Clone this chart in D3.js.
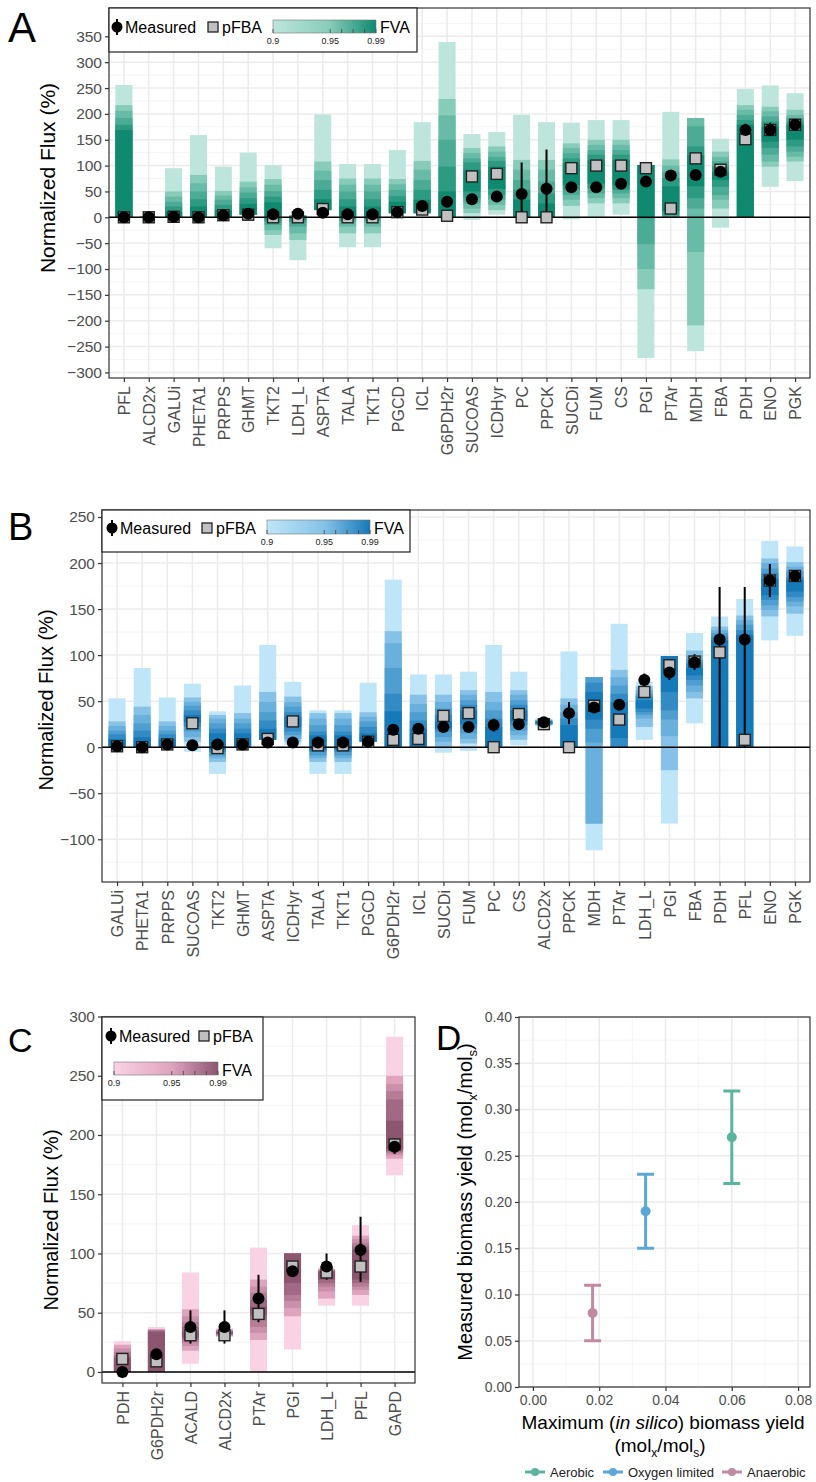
<!DOCTYPE html>
<html><head><meta charset="utf-8">
<script src="https://cdn.jsdelivr.net/npm/d3@7"></script>
<style>
body{margin:0;background:#fff}
svg{display:block}
text{font-family:"Liberation Sans",Arial,Helvetica,sans-serif}
</style>
</head><body>
<svg id="fig" width="816" height="1482"></svg>
<script>
// ---------------- DATA ----------------
const fvaFractions = [0.9, 0.95, 0.96, 0.97, 0.98, 0.99];
const legendTickLabels = ["0.9", "0.95", "0.99"];

// Panel A (aerobic)
const aReactions = ["PFL","ALCD2x","GALUi","PHETA1","PRPPS","GHMT","TKT2","LDH_L","ASPTA","TALA","TKT1","PGCD","ICL","G6PDH2r","SUCOAS","ICDHyr","PC","PPCK","SUCDi","FUM","CS","PGI","PTAr","MDH","FBA","PDH","ENO","PGK"];
const aMeasured   = [0,0,1,0,4,7,6,7,9,6,6,10,22,30,35,40,45,55,58,58,65,69,81,82,88,169,169,179];
const aMeasuredLo = [0,0,1,0,4,7,6,7,9,6,6,10,16,30,35,40,0,0,58,58,65,69,81,82,85,157,157,179];
const aMeasuredHi = [0,0,1,0,4,7,6,7,9,6,6,10,32,30,35,40,106,131,58,58,65,69,81,82,91,181,183,179];
const aPfba       = [0,0,1,0,4,5,0,0,16,0,0,10,15,3,79,84,0,0,95,100,100,95,17,114,92,151,169,179];
const aFvaHi = [
 [256,217,206,192,179,169],[1,1,1,1,1,1],[95,50,40,30,21,11],[159,82,66,50,35,21],
 [98,51,42,34,24,14],[125,69,58,48,37,26],[101,74,63,51,40,29],[3,3,3,3,3,3],
 [199,108,90,72,53,35],[103,75,63,50,35,21],[103,75,63,50,35,21],[130,74,64,53,41,30],
 [184,109,92,72,53,34],[339,229,197,150,98,50],[161,134,124,114,106,92],[165,137,127,117,109,98],
 [198,111,92,72,53,34],[184,111,92,69,46,27],[183,143,134,124,114,105],[188,150,140,130,121,111],
 [188,150,140,130,121,111],[101,101,101,101,101,101],[204,112,100,88,76,60],[192,192,192,176,137,120],
 [152,127,117,108,98,88],[248,217,208,198,188,179],[255,214,205,195,185,175],[240,208,198,192,185,179]
];
const aFvaLo = [
 [0,0,0,0,0,0],[-1,-1,-1,-1,-1,-1],[0,0,0,0,0,0],[0,0,0,0,0,0],
 [0,0,0,0,0,0],[5,5,5,5,5,5],[-60,-34,-25,-15,-8,-3],[-83,-44,-31,-18,-8,-3],
 [14,14,14,14,14,14],[-58,-31,-18,-8,-3,-2],[-58,-31,-18,-8,-3,-2],[8,8,8,8,8,8],
 [8,8,8,8,8,8],[0,0,0,0,0,0],[-5,8,17,27,37,50],[5,14,24,34,43,55],
 [0,0,0,0,0,0],[0,0,0,0,0,0],[-4,22,34,43,53,62],[0,27,37,46,56,65],
 [5,27,37,46,53,62],[-272,-139,-100,-52,-2,0],[0,0,0,0,5,12],[-259,-209,-67,17,37,60],
 [-20,17,34,43,59,72],[0,0,0,0,0,0],[59,98,108,121,134,146],[70,108,117,127,137,150]
];
const aYTicks = [-300,-250,-200,-150,-100,-50,0,50,100,150,200,250,300,350];

// Panel B (oxygen limited)
const bReactions = ["GALUi","PHETA1","PRPPS","SUCOAS","TKT2","GHMT","ASPTA","ICDHyr","TALA","TKT1","PGCD","G6PDH2r","ICL","SUCDi","FUM","PC","CS","ALCD2x","PPCK","MDH","PTAr","LDH_L","PGI","FBA","PDH","PFL","ENO","PGK"];
const bMeasured   = [1,0,3,2,3,3,5,5,5,5,6,19,20,22,22,24,25,27,37,43,46,73,81,92,117,117,181,186];
const bMeasuredLo = [1,0,3,2,3,3,5,5,5,5,6,19,20,22,22,17,25,27,25,43,46,65,73,84,0,0,163,186];
const bMeasuredHi = [1,0,3,2,3,3,5,5,5,5,6,19,20,22,22,31,25,27,49,43,46,80,90,101,174,174,199,186];
const bPfba       = [1,0,3,26,-1,3,9,28,2,2,6,8,9,34,37,0,36,25,0,45,30,60,89,93,103,8,181,186];
const bFvaHi = [
 [53,28,23,18,14,9],[86,44,35,26,18,11],[54,28,23,18,14,9],[69,54,49,45,40,35],
 [39,35,31,26,20,15],[67,37,31,26,20,15],[111,60,49,38,29,20],[71,55,49,44,38,33],
 [40,37,31,24,17,13],[40,37,31,24,17,13],[70,38,33,28,22,15],[182,126,113,86,58,39],
 [79,57,47,38,29,20],[79,57,49,42,35,28],[82,62,57,51,46,40],[111,60,49,40,31,22],
 [82,62,57,51,46,40],[31,30,29,29,28,28],[104,53,46,38,31,24],[76,76,76,76,70,60],
 [134,84,76,67,58,49],[71,66,62,58,55,51],[99,99,99,99,99,99],[124,105,100,95,91,86],
 [142,131,127,124,120,116],[161,143,138,133,127,122],[224,205,200,194,189,183],[218,201,196,191,185,182]
];
const bFvaLo = [
 [0,0,0,0,0,0],[0,0,0,0,0,0],[0,0,0,0,0,0],[-5,6,11,17,22,27],
 [-29,-16,-12,-9,-5,-3],[0,0,0,0,0,0],[8,8,8,8,8,8],[2,6,9,13,17,22],
 [-29,-16,-12,-9,-5,-3],[-29,-16,-12,-9,-5,-3],[6,6,6,6,6,6],[0,0,0,0,0,0],
 [0,0,0,0,0,0],[-6,0,6,11,17,20],[-4,4,9,15,20,25],[0,0,0,0,0,0],
 [2,8,13,18,24,28],[23,24,24,25,25,26],[0,0,0,0,0,0],[-112,-83,-83,5,20,30],
 [0,0,0,0,0,10],[8,22,31,35,38,42],[-83,-25,12,30,40,60],[26,53,60,67,73,78],
 [0,0,0,0,0,0],[0,0,0,0,0,0],[116,142,149,154,160,165],[121,145,153,158,163,169]
];
const bYTicks = [-100,-50,0,50,100,150,200,250];

// Panel C (anaerobic)
const cReactions = ["PDH","G6PDH2r","ACALD","ALCD2x","PTAr","PGI","LDH_L","PFL","GAPD"];
const cMeasured   = [0,15,38,38,62,85,89,103,190];
const cMeasuredLo = [0,15,24,24,42,85,78,76,184];
const cMeasuredHi = [0,15,52,52,82,85,100,131,197];
const cPfba       = [11,9,31,31,49,89,84,89,192];
const cFvaHi = [
 [26,23,20,17,14,12],[38,36,36,35,35,34],[84,53,47,42,38,34],[37,36,35,35,34,34],
 [105,78,72,67,61,55],[100,100,100,100,100,100],[88,87,86,86,85,85],[124,115,112,109,106,103],
 [283,250,243,237,230,212]
];
const cFvaLo = [
 [0,0,0,0,0,0],[0,0,0,0,0,0],[7,18,22,25,27,29],[30,30,31,31,32,32],
 [0,27,33,38,44,48],[19,47,54,60,65,75],[56,62,68,72,75,78],[56,65,69,72,75,78],
 [166,180,183,185,186,188]
];
const cYTicks = [0,50,100,150,200,250,300];

// Panel D (biomass yield)
const dConditions = ["Aerobic","Oxygen limited","Anaerobic"];
const dMaxYield = [0.06, 0.034, 0.018];
const dMeasuredYield = [0.27, 0.19, 0.08];
const dYieldLo = [0.22, 0.15, 0.05];
const dYieldHi = [0.32, 0.23, 0.11];
const dXTicks = [0, 0.02, 0.04, 0.06, 0.08];
const dYTicks = [0,0.05,0.10,0.15,0.20,0.25,0.30,0.35,0.40];

// ---------------- DRAWING ----------------
const svg = d3.select("#fig");
const GRID_MAJOR = "#ebebeb", GRID_MINOR = "#f4f4f4", TICK_TXT = "#4d4d4d", BORDER = "#333333";

function fluxPanel(o) {
  const g = svg.append("g");
  const x = d3.scalePoint().domain(o.names).range([o.left, o.right]).padding(0.6);
  const y = d3.scaleLinear().domain(o.yDomain).range([o.bottom, o.top]);
  const color = d3.scaleLinear().domain([0.9, 0.95, 0.99]).range(o.colors);
  const step = o.yTicks[1] - o.yTicks[0];
  const minor = [];
  for (let t = o.yTicks[0] - step / 2; t <= o.yDomain[1]; t += step) if (t >= o.yDomain[0]) minor.push(t);

  g.selectAll(".minor").data(minor).join("line")
    .attr("x1", o.left).attr("x2", o.right).attr("y1", d => y(d)).attr("y2", d => y(d))
    .attr("stroke", GRID_MINOR).attr("stroke-width", 0.9);
  g.selectAll(".major").data(o.yTicks).join("line")
    .attr("x1", o.left).attr("x2", o.right).attr("y1", d => y(d)).attr("y2", d => y(d))
    .attr("stroke", GRID_MAJOR).attr("stroke-width", 1.5);
  g.selectAll(".xgrid").data(o.names).join("line")
    .attr("x1", d => x(d)).attr("x2", d => x(d)).attr("y1", o.top).attr("y2", o.bottom)
    .attr("stroke", GRID_MAJOR).attr("stroke-width", 1.5);

  // FVA bands (widest first)
  const rects = [];
  o.names.forEach((n, i) => fvaFractions.forEach((f, k) => rects.push({n, f, lo: o.fvaLo[i][k], hi: o.fvaHi[i][k]})));
  g.selectAll(".fva").data(rects).join("rect")
    .attr("x", d => x(d.n) - o.barW / 2).attr("width", o.barW)
    .attr("y", d => y(Math.max(d.lo, d.hi))).attr("height", d => Math.abs(y(d.lo) - y(d.hi)))
    .attr("fill", d => color(d.f));

  // zero line
  g.append("line").attr("x1", o.left).attr("x2", o.right).attr("y1", y(0)).attr("y2", y(0))
    .attr("stroke", "#000").attr("stroke-width", 1.6);

  // measured error bars
  g.selectAll(".err").data(o.names).join("line")
    .attr("x1", d => x(d)).attr("x2", d => x(d))
    .attr("y1", (d, i) => y(o.measLo[i])).attr("y2", (d, i) => y(o.measHi[i]))
    .attr("stroke", "#000").attr("stroke-width", 2);
  // pFBA squares
  const s = 11;
  g.selectAll(".pfba").data(o.names).join("rect")
    .attr("x", d => x(d) - s / 2).attr("y", (d, i) => y(o.pfba[i]) - s / 2)
    .attr("width", s).attr("height", s)
    .attr("fill", "#c0c0c0").attr("stroke", "#222").attr("stroke-width", 1.4);
  // measured points
  g.selectAll(".meas").data(o.names).join("circle")
    .attr("cx", d => x(d)).attr("cy", (d, i) => y(o.meas[i])).attr("r", 6)
    .attr("fill", "#000");

  // border
  g.append("rect").attr("x", o.left).attr("y", o.top).attr("width", o.right - o.left).attr("height", o.bottom - o.top)
    .attr("fill", "none").attr("stroke", BORDER).attr("stroke-width", 1.2);

  // axes
  const ya = g.append("g").attr("transform", `translate(${o.left},0)`)
    .call(d3.axisLeft(y).tickValues(o.yTicks).tickSize(4).tickPadding(3));
  ya.select(".domain").remove();
  ya.selectAll("line").attr("stroke", BORDER).attr("stroke-width", 1.2);
  ya.selectAll("text").attr("fill", TICK_TXT).attr("font-size", o.tickFont)
    .attr("font-family", "Liberation Sans, Arial, sans-serif");

  const xa = g.append("g").attr("transform", `translate(0,${o.bottom})`)
    .call(d3.axisBottom(x).tickSize(4));
  xa.select(".domain").remove();
  xa.selectAll("line").attr("stroke", BORDER).attr("stroke-width", 1.2);
  xa.selectAll("text").attr("fill", TICK_TXT).attr("font-size", o.xFont)
    .attr("font-family", "Liberation Sans, Arial, sans-serif")
    .attr("transform", "rotate(-90)").attr("text-anchor", "end")
    .attr("x", -8).attr("y", 0).attr("dy", "0.36em");

  // y title
  svg.append("text").attr("transform", `translate(${o.titleX},${o.titleY}) rotate(-90)`)
    .attr("text-anchor", "middle").attr("font-size", o.titleFont).attr("fill", "#000")
    .text("Normalized Flux (%)");
  // panel letter
  svg.append("text").attr("x", o.letter.x).attr("y", o.letter.y).attr("font-size", o.letter.size)
    .attr("font-family", "Open Sans, Liberation Sans, sans-serif").attr("fill", "#000").text(o.letter.t);

  // legend
  const L = o.legend;
  const lg = svg.append("g");
  lg.append("rect").attr("x", L.box[0]).attr("y", L.box[1]).attr("width", L.box[2]).attr("height", L.box[3])
    .attr("fill", "#fff").attr("stroke", "#222").attr("stroke-width", 1.2);
  lg.append("line").attr("x1", L.meas[0]).attr("x2", L.meas[0]).attr("y1", L.meas[1] - 8).attr("y2", L.meas[1] + 8)
    .attr("stroke", "#000").attr("stroke-width", 2);
  lg.append("circle").attr("cx", L.meas[0]).attr("cy", L.meas[1]).attr("r", 5.5).attr("fill", "#000");
  lg.append("text").attr("x", L.meas[0] + 8).attr("y", L.meas[1] + 6).attr("font-size", 16).text("Measured");
  lg.append("rect").attr("x", L.pfba[0] - 5).attr("y", L.pfba[1] - 5).attr("width", 10).attr("height", 10)
    .attr("fill", "#c0c0c0").attr("stroke", "#222").attr("stroke-width", 1.3);
  lg.append("text").attr("x", L.pfba[0] + 9).attr("y", L.pfba[1] + 6).attr("font-size", 16).text("pFBA");

  const gid = "grad" + o.letter.t;
  const grad = svg.append("defs").append("linearGradient").attr("id", gid);
  [0.9, 0.95, 0.99].forEach(f => grad.append("stop").attr("offset", (f - 0.9) / 0.09).attr("stop-color", color(f)));
  const cb = d3.scaleLinear().domain([0.9, 0.99]).range([L.bar[0], L.bar[0] + L.bar[2]]);
  lg.append("rect").attr("x", L.bar[0]).attr("y", L.bar[1]).attr("width", L.bar[2]).attr("height", L.bar[3])
    .attr("fill", `url(#${gid})`).attr("stroke", "#777").attr("stroke-width", 0.6);
  lg.selectAll(".cbt").data(fvaFractions).join("line")
    .attr("x1", d => cb(d)).attr("x2", d => cb(d))
    .attr("y1", L.bar[1] + L.bar[3] - 4).attr("y2", L.bar[1] + L.bar[3])
    .attr("stroke", "#444").attr("stroke-width", 0.8);
  lg.selectAll(".cbl").data(legendTickLabels).join("text")
    .attr("x", d => cb(+d)).attr("y", L.bar[1] + L.bar[3] + 11)
    .attr("text-anchor", "middle").attr("font-size", 9)
    .attr("font-family", "Liberation Serif, serif").attr("fill", "#222").text(d => d);
  lg.append("text").attr("x", L.fva[0]).attr("y", L.fva[1]).attr("font-size", 16).text("FVA");
}

fluxPanel({
  names: aReactions, meas: aMeasured, measLo: aMeasuredLo, measHi: aMeasuredHi, pfba: aPfba,
  fvaLo: aFvaLo, fvaHi: aFvaHi, yTicks: aYTicks,
  left: 109, right: 810, top: 8, bottom: 378, yDomain: [-310.8, 404.8],
  colors: ["#bde5db", "#86ccb9", "#0f8a70"], barW: 17,
  tickFont: 15.5, xFont: 16, titleFont: 21, titleX: 55, titleY: 178,
  letter: {t: "A", x: 8, y: 42, size: 42},
  legend: {box: [109, 8, 308, 44], meas: [117, 27], pfba: [213, 27], bar: [273, 20, 103, 13], fva: [380, 33]}
});

fluxPanel({
  names: bReactions, meas: bMeasured, measLo: bMeasuredLo, measHi: bMeasuredHi, pfba: bPfba,
  fvaLo: bFvaLo, fvaHi: bFvaHi, yTicks: bYTicks,
  left: 102, right: 810, top: 510, bottom: 882, yDomain: [-146.4, 257.6],
  colors: ["#bfe6f8", "#86c2e8", "#1679b8"], barW: 17,
  tickFont: 15.5, xFont: 16, titleFont: 20, titleX: 53, titleY: 700,
  letter: {t: "B", x: 8, y: 540, size: 38},
  legend: {box: [102, 510, 308, 42], meas: [112, 528], pfba: [207, 528], bar: [267, 520, 103, 14], fva: [374, 534]}
});

fluxPanel({
  names: cReactions, meas: cMeasured, measLo: cMeasuredLo, measHi: cMeasuredHi, pfba: cPfba,
  fvaLo: cFvaLo, fvaHi: cFvaHi, yTicks: cYTicks,
  left: 102, right: 415, top: 1017, bottom: 1383, yDomain: [-9.3, 299.6],
  colors: ["#f9d3e4", "#dfa3be", "#8c5670"], barW: 17,
  tickFont: 15.5, xFont: 16, titleFont: 20, titleX: 58, titleY: 1220,
  letter: {t: "C", x: 8, y: 1052, size: 34},
  legend: {box: [102, 1017, 161, 83], meas: [111, 1036], pfba: [204, 1036], bar: [114, 1062, 104, 13], fva: [222, 1076]}
});

// Panel D
(function () {
  const left = 519, right = 810, top = 1017, bottom = 1387;
  const x = d3.scaleLinear().domain([-0.0042, 0.0836]).range([left, right]);
  const y = d3.scaleLinear().domain([0, 0.4]).range([bottom, top]);
  const colors = ["#5bb59e", "#5aa7d8", "#c08aa4"];
  const g = svg.append("g");
  const xMinor = dXTicks.slice(0, -1).map((t, i) => (t + dXTicks[i + 1]) / 2);
  const yMinor = dYTicks.slice(0, -1).map((t, i) => (t + dYTicks[i + 1]) / 2);
  g.selectAll(".xm").data(xMinor).join("line").attr("x1", d => x(d)).attr("x2", d => x(d))
    .attr("y1", top).attr("y2", bottom).attr("stroke", GRID_MINOR).attr("stroke-width", 0.9);
  g.selectAll(".ym").data(yMinor).join("line").attr("y1", d => y(d)).attr("y2", d => y(d))
    .attr("x1", left).attr("x2", right).attr("stroke", GRID_MINOR).attr("stroke-width", 0.9);
  g.selectAll(".xM").data(dXTicks).join("line").attr("x1", d => x(d)).attr("x2", d => x(d))
    .attr("y1", top).attr("y2", bottom).attr("stroke", GRID_MAJOR).attr("stroke-width", 1.5);
  g.selectAll(".yM").data(dYTicks).join("line").attr("y1", d => y(d)).attr("y2", d => y(d))
    .attr("x1", left).attr("x2", right).attr("stroke", GRID_MAJOR).attr("stroke-width", 1.5);

  dConditions.forEach((c, i) => {
    const cx = x(dMaxYield[i]);
    g.append("line").attr("x1", cx).attr("x2", cx).attr("y1", y(dYieldLo[i])).attr("y2", y(dYieldHi[i]))
      .attr("stroke", colors[i]).attr("stroke-width", 3);
    [dYieldLo[i], dYieldHi[i]].forEach(v => g.append("line").attr("x1", cx - 8.5).attr("x2", cx + 8.5)
      .attr("y1", y(v)).attr("y2", y(v)).attr("stroke", colors[i]).attr("stroke-width", 3));
    g.append("circle").attr("cx", cx).attr("cy", y(dMeasuredYield[i])).attr("r", 5).attr("fill", colors[i]);
  });

  g.append("rect").attr("x", left).attr("y", top).attr("width", right - left).attr("height", bottom - top)
    .attr("fill", "none").attr("stroke", BORDER).attr("stroke-width", 1.2);
  const ya = g.append("g").attr("transform", `translate(${left},0)`)
    .call(d3.axisLeft(y).tickValues(dYTicks).tickFormat(d3.format(".2f")).tickSize(4).tickPadding(3));
  ya.select(".domain").remove();
  ya.selectAll("line").attr("stroke", BORDER).attr("stroke-width", 1.2);
  ya.selectAll("text").attr("fill", TICK_TXT).attr("font-size", 14).attr("font-family", "Liberation Sans, Arial, sans-serif");
  const xa = g.append("g").attr("transform", `translate(0,${bottom})`)
    .call(d3.axisBottom(x).tickValues(dXTicks).tickFormat(d3.format(".2f")).tickSize(4).tickPadding(4));
  xa.select(".domain").remove();
  xa.selectAll("line").attr("stroke", BORDER).attr("stroke-width", 1.2);
  xa.selectAll("text").attr("fill", TICK_TXT).attr("font-size", 14).attr("font-family", "Liberation Sans, Arial, sans-serif");

  // titles
  const yt = svg.append("text").attr("transform", `translate(472,1202) rotate(-90)`)
    .attr("text-anchor", "middle").attr("font-size", 20).attr("fill", "#000");
  yt.append("tspan").text("Measured biomass yield (mol");
  yt.append("tspan").attr("font-size", 13).attr("dy", 5).text("x");
  yt.append("tspan").attr("dy", -5).text("/mol");
  yt.append("tspan").attr("font-size", 13).attr("dy", 5).text("s");
  yt.append("tspan").attr("dy", -5).text(")");

  const xt = svg.append("text").attr("x", 663).attr("y", 1429).attr("text-anchor", "middle").attr("font-size", 19);
  xt.append("tspan").text("Maximum (");
  xt.append("tspan").attr("font-style", "italic").text("in silico");
  xt.append("tspan").text(") biomass yield");
  const xt2 = svg.append("text").attr("x", 660).attr("y", 1452).attr("text-anchor", "middle").attr("font-size", 19);
  xt2.append("tspan").text("(mol");
  xt2.append("tspan").attr("font-size", 12).attr("dy", 5).text("x");
  xt2.append("tspan").attr("dy", -5).text("/mol");
  xt2.append("tspan").attr("font-size", 12).attr("dy", 5).text("s");
  xt2.append("tspan").attr("dy", -5).text(")");

  svg.append("text").attr("x", 436).attr("y", 1050).attr("font-size", 35)
    .attr("font-family", "Open Sans, Liberation Sans, sans-serif").text("D");

  // legend
  const keyX = [525, 603, 722];
  dConditions.forEach((c, i) => {
    const kx = keyX[i], ky = 1472;
    svg.append("line").attr("x1", kx).attr("x2", kx + 20).attr("y1", ky).attr("y2", ky)
      .attr("stroke", colors[i]).attr("stroke-width", 3);
    svg.append("circle").attr("cx", kx + 10).attr("cy", ky).attr("r", 4).attr("fill", colors[i]);
    svg.append("text").attr("x", kx + 25).attr("y", ky + 5).attr("font-size", 13).attr("fill", "#222").text(c);
  });
})();
</script>
</body></html>
